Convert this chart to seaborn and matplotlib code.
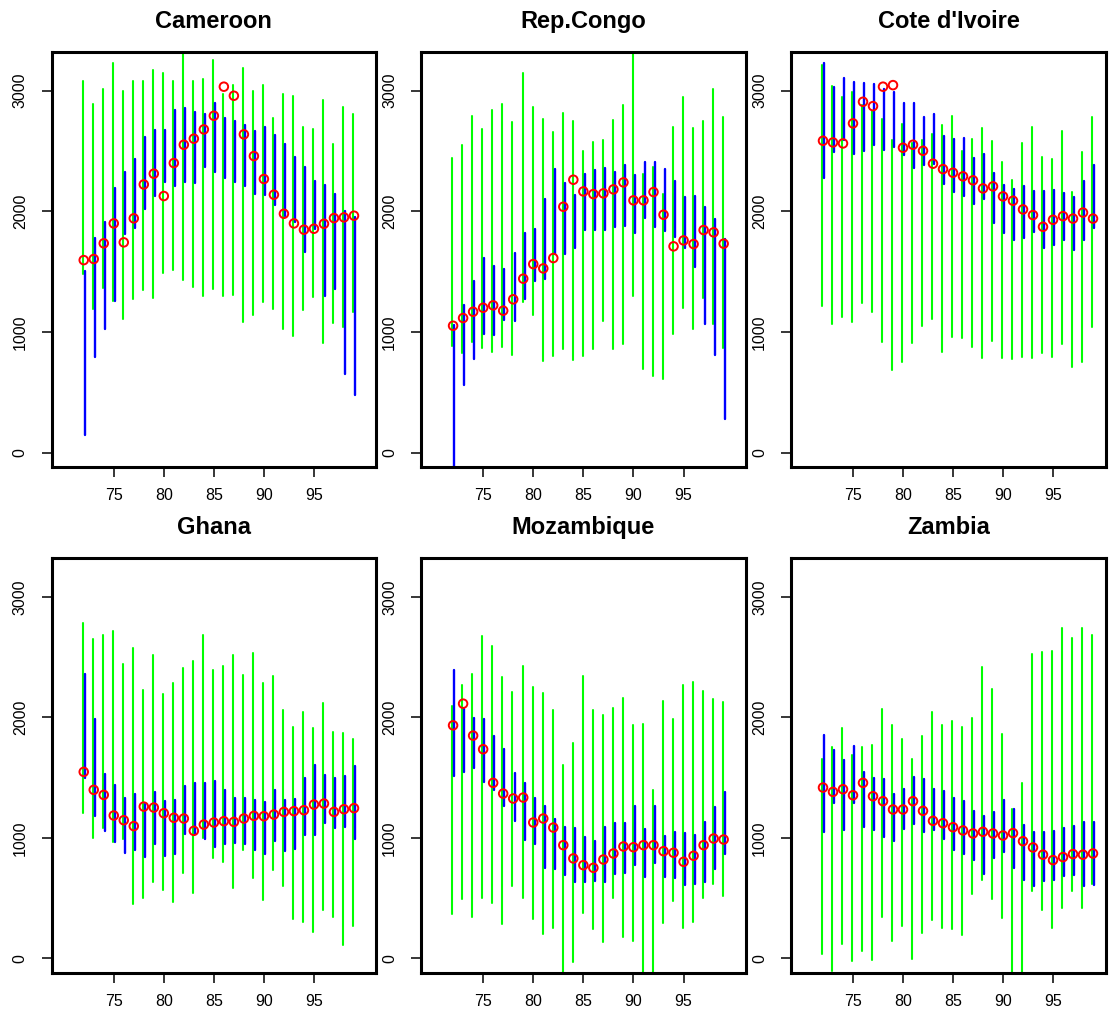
import numpy as np
import pandas as pd
import seaborn as sns
import matplotlib
matplotlib.use("Agg")
import matplotlib.pyplot as plt

sns.set_theme(style="ticks")
plt.rcParams['font.family'] = ['Liberation Sans', 'DejaVu Sans']

# years shown on every panel
years = np.arange(72, 100)

# Cameroon
cmr_point = [1596, 1605, 1735, 1900, 1743, 1942, 2223, 2312, 2127, 2400, 2552, 2602, 2679, 2792,
             3033, 2958, 2638, 2458, 2268, 2138, 1980, 1900, 1848, 1856, 1897, 1944, 1950, 1964]
cmr_green_hi = [3082, 2886, 3016, 3226, 3000, 3080, 3077, 3174, 3149, 3080, 3350, 3080, 3096, 3254,
                2969, 3046, 3187, 3000, 3044, 2773, 2972, 2955, 2701, 2679, 2922, 2558, 2861, 2806]
cmr_green_lo = [1478, 1188, 1362, 1259, 1110, 1276, 1348, 1284, 1491, 1514, 1431, 1375, 1298, 1353,
                1298, 1304, 1083, 1141, 1251, 1193, 1025, 967, 1182, 1287, 906, 1072, 1038, 1168]
cmr_blue_hi = [1505, 1779, 1911, 2193, 2326, 2436, 2618, 2676, 2676, 2839, 2859, 2826, 2803, 2900,
               2773, 2751, 2718, 2665, 2696, 2629, 2558, 2447, 2367, 2251, 2221, 2143, 2002, 1955]
cmr_blue_lo = [146, 795, 1022, 1259, 1812, 1864, 2022, 2129, 2245, 2212, 2245, 2237, 2370, 2326,
               2273, 2240, 2212, 2143, 2132, 2055, 1964, 1914, 1663, 1853, 1301, 1353, 652, 475]

# Rep.Congo
cog_point = [1052, 1116, 1168, 1201, 1221, 1177, 1271, 1442, 1563, 1527, 1613, 2038, 2262, 2165,
             2143, 2149, 2182, 2240, 2091, 2091, 2160, 1972, 1710, 1759, 1729, 1845, 1826, 1732]
cog_green_hi = [2439, 2547, 2790, 2679, 2839, 2886, 2743, 3146, 2861, 2762, 2660, 2814, 2748, 2500,
                2577, 2594, 2754, 2881, 3350, 2312, 2364, 2143, 2698, 2944, 2687, 2748, 3011, 2784]
cog_green_lo = [884, 823, 920, 870, 837, 876, 807, 1251, 1141, 760, 801, 859, 768, 804,
                859, 1091, 859, 903, 1298, 696, 638, 608, 983, 1196, 1022, 1279, 1063, 864]
cog_blue_hi = [1058, 1226, 1422, 1616, 1549, 1519, 1652, 1823, 1853, 2099, 2353, 2232, 2132, 2309,
               2339, 2359, 2323, 2384, 2301, 2406, 2406, 2350, 2251, 2118, 2127, 2038, 1939, 1768]
cog_blue_lo = [-150, 558, 773, 981, 972, 1099, 1094, 1271, 1422, 1436, 1646, 1646, 1696, 1848,
               1845, 1848, 1867, 1881, 1817, 1947, 1873, 1839, 1790, 1693, 1541, 1066, 809, 276]

# Cote d'Ivoire
civ_point = [2585, 2571, 2563, 2729, 2908, 2872, 3033, 3046, 2527, 2552, 2502, 2395, 2350, 2320,
             2290, 2257, 2190, 2207, 2124, 2088, 2016, 1969, 1872, 1930, 1960, 1940, 1990, 1940]
civ_green_hi = [3212, 3038, 2950, 2991, 2881, 2831, 2765, 2591, 2721, 2569, 2591, 2638, 2715, 2790,
                2497, 2596, 2687, 2582, 2406, 2257, 2569, 2696, 2450, 2430, 2670, 2160, 2490, 2780]
civ_green_lo = [1218, 1066, 1121, 1085, 1237, 1168, 920, 685, 749, 906, 1050, 1110, 831, 961,
                947, 873, 782, 928, 787, 773, 790, 782, 830, 790, 900, 712, 754, 1044]
civ_blue_hi = [3226, 3033, 3102, 3069, 3066, 3052, 3013, 2991, 2895, 2895, 2779, 2803, 2624, 2596,
               2605, 2444, 2475, 2320, 2215, 2182, 2212, 2170, 2170, 2180, 2150, 2120, 2250, 2380]
civ_blue_lo = [2279, 2489, 2591, 2475, 2502, 2552, 2508, 2535, 2466, 2356, 2384, 2392, 2229, 2163,
               2129, 2058, 2102, 1900, 1823, 1762, 1781, 1830, 1700, 1720, 1760, 1680, 1760, 1860]

# Ghana
gha_point = [1547, 1398, 1356, 1185, 1146, 1097, 1259, 1251, 1204, 1166, 1160, 1058, 1110, 1127,
             1138, 1132, 1160, 1182, 1179, 1193, 1215, 1221, 1229, 1276, 1284, 1215, 1237, 1246]
gha_green_hi = [2784, 2646, 2685, 2718, 2439, 2571, 2226, 2513, 2190, 2287, 2406, 2469, 2679, 2389,
                2422, 2513, 2348, 2533, 2284, 2342, 2058, 1920, 2044, 1911, 2121, 1878, 1873, 1817]
gha_green_lo = [1207, 1000, 1083, 967, 994, 447, 503, 630, 566, 470, 710, 544, 1000, 829,
                801, 580, 898, 668, 483, 737, 602, 326, 298, 215, 400, 340, 110, 271]
gha_blue_hi = [2359, 1989, 1530, 1436, 1334, 1362, 1284, 1384, 1306, 1312, 1428, 1458, 1453, 1472,
               1400, 1334, 1334, 1317, 1298, 1400, 1317, 1326, 1500, 1607, 1525, 1497, 1511, 1596]
gha_blue_lo = [1497, 1182, 1058, 967, 878, 895, 837, 947, 848, 862, 1030, 1030, 992, 925,
               950, 958, 945, 898, 867, 975, 892, 911, 1025, 1022, 1119, 1083, 1088, 989]

# Mozambique
moz_point = [1933, 2113, 1848, 1735, 1456, 1367, 1326, 1334, 1127, 1160, 1085, 939, 829, 773,
             751, 820, 870, 928, 922, 939, 939, 889, 876, 801, 851, 939, 994, 986]
moz_green_hi = [2091, 2265, 2359, 2671, 2594, 2334, 2210, 2428, 2251, 2201, 2058, 1607, 1790, 2342,
                2058, 2022, 2074, 2163, 1933, 1947, 1400, 2132, 1989, 2270, 2292, 2215, 2149, 2127]
moz_green_lo = [367, 492, 345, 503, 456, 282, 597, 503, 323, 202, 249, -150, -28, 373,
                243, 138, 497, 180, 146, -150, -150, 296, 475, 250, 300, 503, 616, 519]
moz_blue_hi = [2389, 2066, 1997, 1986, 1845, 1737, 1536, 1458, 1334, 1265, 1155, 1091, 1083, 1005,
               975, 1088, 1124, 1119, 1262, 1077, 1262, 1016, 1047, 1036, 1027, 1132, 1254, 1381]
moz_blue_lo = [1514, 1547, 1583, 1467, 1400, 1268, 1138, 983, 950, 746, 740, 691, 630, 630,
               644, 630, 696, 704, 773, 677, 787, 674, 663, 608, 621, 635, 740, 865]

# Zambia
zmb_point = [1417, 1381, 1403, 1353, 1456, 1345, 1304, 1235, 1235, 1304, 1224, 1141, 1121, 1088,
             1061, 1036, 1050, 1036, 1019, 1039, 972, 920, 860, 815, 840, 865, 860, 870]
zmb_green_hi = [1657, 1754, 1911, 1685, 1754, 1768, 2066, 1939, 1817, 1652, 1842, 2044, 1933, 1972,
                1920, 1997, 2417, 2232, 1862, 1237, 1458, 2522, 2540, 2550, 2740, 2660, 2740, 2680]
zmb_green_lo = [33, -105, 119, -22, 64, -14, 345, 144, 271, -6, 207, 318, 249, 243,
                193, 536, 649, 489, 337, -150, -150, 561, 400, 250, 420, 560, 420, 620]
zmb_blue_hi = [1851, 1729, 1643, 1765, 1547, 1500, 1491, 1367, 1403, 1503, 1491, 1409, 1392, 1329,
               1309, 1226, 1182, 1215, 1312, 1237, 1110, 1050, 1050, 1060, 1080, 1100, 1130, 1130]
zmb_blue_lo = [1050, 1290, 1069, 1290, 1091, 1063, 1008, 972, 1072, 1116, 1050, 1061, 989, 903,
               867, 820, 699, 829, 884, 746, 649, 600, 640, 650, 680, 690, 600, 610]


def segments(offset, lo, hi):
    # long-form table: two rows per year, joined by units
    return pd.DataFrame({
        "year": np.concatenate([years, years]),
        "x": np.concatenate([years + offset, years + offset]),
        "value": np.concatenate([lo, hi]),
    })


def draw_panel(ax, title, point, g_lo, g_hi, b_lo, b_hi, xmax, ylim):
    sns.lineplot(data=segments(-0.07, g_lo, g_hi), x="x", y="value", units="year",
                 estimator=None, color="#00ff00", lw=1.5, ax=ax, legend=False)
    sns.lineplot(data=segments(0.13, b_lo, b_hi), x="x", y="value", units="year",
                 estimator=None, color="#0000ff", lw=1.7, ax=ax, legend=False)
    sns.scatterplot(x=years, y=point, ax=ax, s=38, facecolors="none",
                    edgecolor="#ff0000", linewidth=1.4, zorder=5)
    ax.set_xlim(68.8, xmax)
    ax.set_ylim(*ylim)
    ax.set_xticks([75, 80, 85, 90, 95])
    ax.set_yticks([0, 1000, 2000, 3000])
    ax.set_xlabel("")
    ax.set_ylabel("")
    ax.set_title(title, fontsize=17, fontweight="bold", pad=17, color="black")
    for sp in ax.spines.values():
        sp.set_visible(True)
        sp.set_linewidth(2.2)
        sp.set_color("black")
    ax.tick_params(axis="both", direction="out", length=7.2, width=1.1,
                   labelsize=11.5, color="black", labelcolor="black",
                   bottom=True, left=True, top=False, right=False)
    ax.tick_params(axis="y", pad=10)
    ax.tick_params(axis="x", pad=8)
    for lab in ax.get_yticklabels():
        lab.set_rotation(90)
        lab.set_va("center")


W, H = 1110, 1019
fig = plt.figure(figsize=(W / 100, H / 100), dpi=100)

cols = [(51.7, 376.0, 101.2), (421.0, 745.7, 101.2), (791.0, 1106.0, 100.3)]
rows = [(51.7, 466.7, (-116, 3323)), (557.7, 973.3, (-124, 3324))]

panels = [
    ("Cameroon", cmr_point, cmr_green_lo, cmr_green_hi, cmr_blue_lo, cmr_blue_hi),
    ("Rep.Congo", cog_point, cog_green_lo, cog_green_hi, cog_blue_lo, cog_blue_hi),
    ("Cote d'Ivoire", civ_point, civ_green_lo, civ_green_hi, civ_blue_lo, civ_blue_hi),
    ("Ghana", gha_point, gha_green_lo, gha_green_hi, gha_blue_lo, gha_blue_hi),
    ("Mozambique", moz_point, moz_green_lo, moz_green_hi, moz_blue_lo, moz_blue_hi),
    ("Zambia", zmb_point, zmb_green_lo, zmb_green_hi, zmb_blue_lo, zmb_blue_hi),
]

for i, (title, pt, glo, ghi, blo, bhi) in enumerate(panels):
    top, bottom, ylim = rows[i // 3]
    left, right, xmax = cols[i % 3]
    ax = fig.add_axes([left / W, 1 - bottom / H, (right - left) / W, (bottom - top) / H])
    draw_panel(ax, title, pt, glo, ghi, blo, bhi, xmax, ylim)

fig.savefig("out.png", dpi=100)
